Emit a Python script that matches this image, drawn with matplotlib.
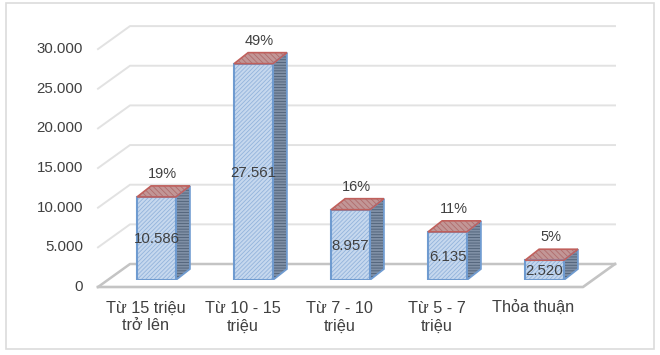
import matplotlib
matplotlib.use('Agg')
import matplotlib.pyplot as plt
from matplotlib.patches import Polygon, Rectangle

plt.rcParams['font.family'] = ['Liberation Sans', 'DejaVu Sans']
plt.rcParams['hatch.linewidth'] = 0.6

categories = ['Từ 15 triệu\ntrở lên', 'Từ 10 - 15\ntriệu', 'Từ 7 - 10\ntriệu', 'Từ 5 - 7\ntriệu', 'Thỏa thuận']
values = [10586, 27561, 8957, 6135, 2520]
percents = ['19%', '49%', '16%', '11%', '5%']
value_labels = ['10.586', '27.561', '8.957', '6.135', '2.520']
ticks = [0, 5000, 10000, 15000, 20000, 25000, 30000]
tick_labels = ['0', '5.000', '10.000', '15.000', '20.000', '25.000', '30.000']

W, H = 660, 355
fig = plt.figure(figsize=(W / 100, H / 100), dpi=100)

# outer chart frame
fig.add_artist(Rectangle((5.5 / W, (H - 349) / H), 648 / W, 346 / H, transform=fig.transFigure,
                         facecolor='none', edgecolor='#dcdcdc', lw=1.2))

# axes = the plane the bars stand on, pixels
left, right, base = 108, 593, 280
px_per_unit = 7.85 / 1000
top = 10
ax = fig.add_axes([left / W, (H - base) / H, (right - left) / W, (base - top) / H])
ax.set_xlim(-0.5, 4.5)
ax.set_ylim(0, (base - top) / px_per_unit)
ax.axis('off')

dx_unit = 5 / (right - left)  # x data per pixel
dy_unit = 1 / px_per_unit  # y data per pixel
wall_scale = 7.93 / 7.85


def off(x, y, px, py):
    return (x + px * dx_unit, y + py * dy_unit)


text_c = '#404040'
for t, lab in zip(ticks, tick_labels):
    y = t * wall_scale
    lw = 1.8 if t == 0 else 1.4
    c = '#c4c4c4' if t == 0 else '#e2e2e2'
    back_l = off(-0.5, y, 22, 16)
    back_r = off(4.5, y, 22, 16)
    front_l = off(-0.5, y, -10, -7)
    ax.plot([front_l[0], back_l[0], back_r[0]], [front_l[1], back_l[1], back_r[1]],
            color=c, lw=lw, clip_on=False, zorder=1)
    ax.text(front_l[0] - 15 * dx_unit, front_l[1], lab, ha='right', va='center',
            fontsize=10.8, color=text_c, clip_on=False)

# floor front edge and right side
fl = off(-0.5, 0, -10, -7)
fr = off(4.5, 0, -10, -7)
br = off(4.5, 0, 22, 16)
ax.plot([fl[0], fr[0], br[0]], [fl[1], fr[1], br[1]], color='#c4c4c4', lw=1.9, clip_on=False, zorder=1)

bar_w = 0.4
edge = '#6f9bd0'
for i, v in enumerate(values):
    x0, x1 = i - bar_w / 2, i + bar_w / 2
    # hatch first, outline on top so the hatch can stay pale
    ax.bar(i, v, width=bar_w, facecolor='#c6d8ee', edgecolor='#93b4dc', hatch='////////', lw=0, zorder=3)
    ax.bar(i, v, width=bar_w, facecolor='none', edgecolor=edge, lw=1.5, zorder=4)
    side = [(x1, 0), (x1, v), off(x1, v, 14, 11), off(x1, 0, 14, 11)]
    ax.add_patch(Polygon(side, facecolor='#7f8fa5', edgecolor='#4e6077', hatch='------', lw=0, zorder=3))
    ax.add_patch(Polygon(side, facecolor='none', edgecolor=edge, lw=1.3, zorder=4))
    top_face = [(x0, v), (x1, v), off(x1, v, 14, 11), off(x0, v, 14, 11)]
    ax.add_patch(Polygon(top_face, facecolor='#c29696', edgecolor='#b06c6c', hatch='\\\\\\\\\\\\', lw=0, zorder=3))
    ax.add_patch(Polygon(top_face, facecolor='none', edgecolor='#c0605c', lw=1.2, zorder=4))
    ax.text(*off(i, v / 2, 0, -1), value_labels[i], ha='center', va='center', fontsize=10.8,
            color=text_c, zorder=5)
    ax.text(*off(i, v, 6, 23), percents[i], ha='center', va='center', fontsize=10.5,
            color=text_c, zorder=5)
    ax.text(*off(i, 0, -11, -21), categories[i], ha='center', va='top', fontsize=11.7,
            color=text_c, linespacing=1.2, clip_on=False)

fig.savefig('out.png', dpi=100, facecolor='white')
